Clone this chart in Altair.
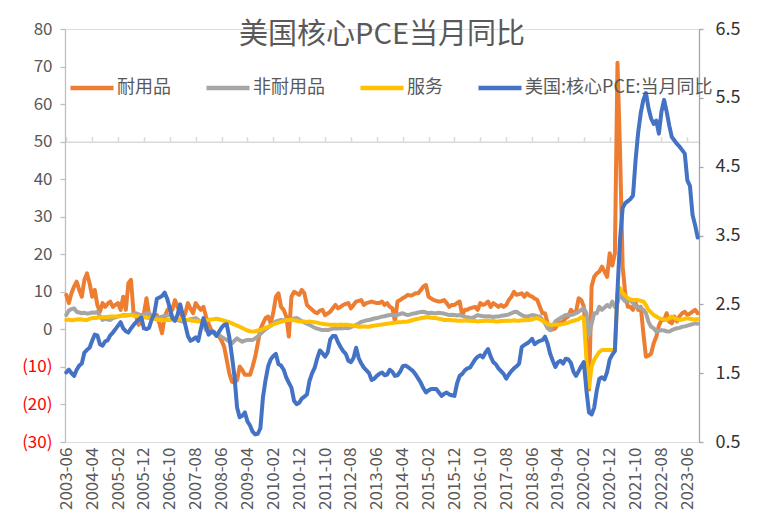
import altair as alt
import pandas as pd

FONT = "Noto Sans CJK SC"
W, H = 634, 413

N = 245
DATES = pd.date_range("2003-06", periods=N, freq="MS").strftime("%Y-%m").tolist()
TICK_DATES = DATES[::10]

SERIES = ["耐用品", "非耐用品", "服务", "美国:核心PCE:当月同比"]
COLORS = ["#ED7D31", "#A5A5A5", "#FFC000", "#4472C4"]
TITLE = "美国核心PCE当月同比"

LEFT_TICKS = list(range(-30, 81, 10))
RIGHT_TICKS = [0.5, 1.5, 2.5, 3.5, 4.5, 5.5, 6.5]

DURABLE = [
    9.2, 7.0, 9.6, 11.4, 12.7, 10.5, 8.7, 13.2, 14.9, 12.3,
    8.7, 10.5, 6.5, 4.7, 7.0, 6.0, 6.8, 7.4, 6.0, 6.5,
    7.0, 5.2, 8.7, 5.2, 12.3, 13.2, 4.3, 3.4, 1.2, 2.5,
    4.3, 8.3, 3.8, 3.0, 3.5, 3.8, 1.5, -1.0, 3.4, 5.0,
    6.0, 5.2, 7.8, 6.0, 4.5, 3.0, 4.3, 7.0, 5.5, 4.3,
    7.0, 6.0, 5.2, 6.0, 3.4, 1.5, -0.2, -0.8, -1.5, -1.9,
    -3.0, -4.6, -8.1, -11.7, -13.9, -14.2, -13.5, -9.9, -10.8, -12.1,
    -12.1, -12.1, -9.9, -7.3, -3.7, 0.0, 1.6, 3.0, 3.4, 1.6,
    4.5, 8.7, 9.6, 6.0, 5.2, 3.4, -1.9, 8.7, 10.0, 9.6,
    9.2, 10.5, 9.6, 6.5, 5.8, 5.2, 4.6, 4.3, 5.0, 5.2,
    3.8, 4.2, 4.7, 5.6, 6.5, 5.6, 6.0, 6.5, 6.8, 7.0,
    5.6, 6.5, 7.4, 7.6, 7.8, 6.5, 7.0, 7.2, 7.4, 7.2,
    7.0, 7.0, 7.4, 6.5, 7.0, 6.0, 5.6, 2.1, 7.4, 7.8,
    8.3, 8.7, 9.2, 9.0, 9.2, 9.6, 9.6, 10.5, 11.4, 11.8,
    8.7, 8.2, 7.8, 7.6, 7.4, 7.5, 7.8, 7.0, 6.0, 6.5,
    6.5, 7.0, 7.4, 3.8, 5.2, 5.2, 5.6, 5.8, 6.0, 5.2,
    7.0, 6.5, 6.8, 7.4, 6.0, 7.0, 6.5, 6.0, 6.5, 6.0,
    6.5, 7.8, 8.7, 10.0, 9.2, 9.4, 9.6, 8.7, 9.6, 9.0,
    8.7, 8.2, 7.8, 6.0, 4.3, 4.3, 1.6, -0.2, 0.0, 0.3,
    1.6, 1.8, 2.1, 3.0, 3.4, 5.2, 4.3, 4.7, 8.3, 7.8,
    6.0, -3.7, -16.0, 11.4, 14.0, 14.9, 15.4, 16.7, 15.4, 14.0,
    20.3, 17.0, 20.3, 71.0, 47.0, 16.7, 9.6, 6.0, 6.0, 5.2,
    7.0, 5.2, 6.0, -1.0, -7.3, -7.0, -6.4, -3.7, -2.0, 1.0,
    2.5, 2.5, 4.3, 2.0, 1.6, 3.4, 2.1, 3.5, 4.3, 4.7,
    3.8, 4.2, 4.7, 5.2, 4.3,
]

NONDURABLE = [
    3.8, 5.0, 5.4, 5.6, 4.7, 4.5, 4.3, 4.4, 4.2, 4.3,
    4.5, 4.4, 4.7, 3.5, 2.5, 2.8, 2.6, 2.5, 3.0, 3.2,
    3.4, 3.6, 3.8, 3.7, 3.8, 3.9, 4.1, 4.3, 4.0, 3.8,
    4.0, 4.2, 4.3, 3.6, 3.2, 3.0, 3.2, 3.4, 3.6, 3.7,
    3.8, 3.2, 2.8, 2.5, 2.3, 2.1, 2.3, 2.5, 2.7, 2.8,
    3.0, 2.5, 2.0, 1.6, -0.2, -0.5, -0.8, -1.0, -1.2, -1.5,
    -2.0, -2.4, -2.8, -3.3, -3.7, -3.0, -2.4, -2.9, -3.3, -3.0,
    -2.8, -2.8, -2.8, -2.4, -1.9, -1.2, -0.6, 0.0, 0.5, 1.0,
    1.6, 2.1, 2.3, 2.5, 2.4, 2.5, 2.5, 2.7, 2.9, 3.0,
    2.6, 2.2, 1.8, 1.5, 1.2, 0.8, 0.4, 0.2, 0.0, -0.2,
    -0.1, -0.2, 0.0, 0.2, 0.3, 0.2, 0.3, 0.3, 0.4, 0.3,
    0.6, 0.9, 1.2, 1.6, 2.0, 2.2, 2.4, 2.5, 2.7, 2.9,
    3.0, 3.2, 3.4, 3.5, 3.7, 3.8, 3.8, 3.7, 3.9, 4.1,
    4.3, 4.0, 3.8, 4.0, 4.2, 4.3, 4.5, 4.6, 4.7, 4.5,
    4.3, 4.4, 4.3, 4.3, 4.4, 4.3, 4.2, 4.0, 3.8, 3.9,
    3.8, 3.7, 3.8, 3.6, 3.4, 3.2, 3.1, 3.0, 3.4, 3.8,
    3.6, 3.5, 3.4, 3.5, 3.4, 3.3, 3.4, 3.4, 3.6, 3.7,
    3.8, 4.0, 4.3, 4.6, 4.7, 4.2, 3.8, 3.5, 3.4, 3.6,
    3.8, 3.7, 3.5, 3.4, 2.5, 1.6, 0.3, -0.2, 1.0, 2.1,
    2.6, 3.0, 3.4, 3.8, 3.9, 3.8, 4.0, 4.3, 4.7, 5.2,
    5.6, 4.3, -1.5, 1.5, 4.3, 4.3, 6.0, 5.2, 5.8, 6.5,
    6.0, 7.4, 6.0, 7.0, 9.6, 8.3, 7.4, 7.6, 7.8, 7.0,
    6.0, 6.0, 5.6, 5.2, 4.3, 2.0, 0.7, 0.3, -0.6, -0.4,
    -0.2, -0.3, -0.5, -0.6, -0.2, 0.1, 0.3, 0.4, 0.7, 0.8,
    1.0, 1.2, 1.4, 1.6, 1.5,
]

SERVICES = [
    2.5, 2.6, 2.4, 2.5, 2.6, 2.7, 2.6, 2.5, 2.5, 2.8,
    3.0, 3.0, 3.1, 3.2, 3.2, 3.3, 3.3, 3.4, 3.4, 3.4,
    3.5, 3.6, 3.6, 3.7, 3.8, 3.8, 3.7, 3.5, 3.4, 3.3,
    3.2, 3.1, 3.0, 2.9, 2.8, 2.6, 2.5, 2.5, 2.4, 2.5,
    2.5, 2.6, 2.7, 2.7, 2.7, 2.6, 2.5, 2.5, 2.4, 2.3,
    2.2, 2.1, 2.2, 2.3, 2.4, 2.5, 2.6, 2.7, 2.8, 2.7,
    2.5, 2.3, 2.1, 1.9, 1.6, 1.3, 1.0, 0.7, 0.4, 0.0,
    -0.3, -0.5, -0.6, -0.5, -0.3, -0.2, 0.1, 0.4, 0.7, 1.0,
    1.3, 1.6, 1.8, 2.0, 2.2, 2.4, 2.5, 2.5, 2.4, 2.3,
    2.1, 2.1, 2.1, 2.0, 2.1, 2.0, 1.9, 1.8, 1.6, 1.5,
    1.4, 1.3, 1.2, 1.2, 1.2, 1.2, 1.3, 1.2, 1.2, 1.2,
    1.1, 1.0, 0.9, 0.7, 0.7, 0.8, 0.7, 0.7, 0.9, 1.0,
    1.1, 1.2, 1.3, 1.4, 1.5, 1.6, 1.7, 1.8, 1.9, 1.9,
    2.0, 2.0, 2.1, 2.3, 2.5, 2.7, 2.8, 3.0, 3.1, 3.2,
    3.2, 3.1, 3.0, 3.0, 2.8, 2.7, 2.5, 2.5, 2.5, 2.4,
    2.4, 2.3, 2.3, 2.3, 2.4, 2.3, 2.3, 2.2, 2.2, 2.1,
    2.2, 2.2, 2.3, 2.3, 2.2, 2.2, 2.1, 2.1, 2.2, 2.2,
    2.3, 2.3, 2.3, 2.4, 2.3, 2.3, 2.4, 2.4, 2.5, 2.5,
    2.6, 2.9, 3.0, 2.7, 2.3, 1.9, 1.4, 1.2, 1.2, 1.2,
    1.2, 1.3, 1.4, 1.6, 1.8, 2.1, 2.3, 2.5, 2.7, 3.2,
    3.0, -8.0, -15.5, -9.9, -8.1, -7.0, -6.0, -5.5, -5.5, -5.5,
    -5.5, -5.5, -5.5, 9.6, 11.0, 9.6, 9.0, 8.3, 8.0, 7.8,
    7.8, 7.8, 7.6, 7.4, 6.5, 5.2, 4.5, 3.8, 3.4, 3.0,
    2.8, 2.6, 2.5, 3.0, 3.4, 3.0, 2.7, 2.5, 2.6, 2.8,
    3.0, 2.8, 2.7, 2.6, 2.7,
]

CORE_PCE = [
    1.51, 1.55, 1.50, 1.46, 1.55, 1.61, 1.64, 1.80, 1.84, 1.87,
    1.97, 2.06, 2.05, 1.92, 1.90, 1.96, 1.98, 2.05, 2.09, 2.14,
    2.19, 2.24, 2.15, 2.11, 2.09, 2.15, 2.20, 2.24, 2.28, 2.31,
    2.15, 2.14, 2.16, 2.28, 2.36, 2.58, 2.60, 2.62, 2.67, 2.58,
    2.45, 2.30, 2.26, 2.35, 2.50, 2.35, 2.20, 2.04, 1.97, 1.99,
    2.02, 1.97, 2.14, 2.30, 2.18, 2.06, 2.10, 2.10, 2.04, 2.10,
    2.16, 2.20, 2.21, 2.02, 1.75, 1.45, 1.00, 0.86, 0.88, 0.93,
    0.80, 0.74, 0.65, 0.61, 0.62, 0.70, 1.15, 1.40, 1.60, 1.70,
    1.75, 1.78, 1.63, 1.61, 1.55, 1.44, 1.36, 1.29, 1.10, 1.05,
    1.07, 1.13, 1.16, 1.19, 1.39, 1.50, 1.58, 1.72, 1.83, 1.79,
    1.74, 1.80, 1.99, 2.04, 2.04, 1.95, 1.88, 1.82, 1.78, 1.68,
    1.66, 1.72, 1.87, 1.72, 1.64, 1.58, 1.54, 1.50, 1.40, 1.42,
    1.46, 1.49, 1.51, 1.47, 1.48, 1.55, 1.52, 1.46, 1.47, 1.52,
    1.60, 1.61, 1.59, 1.56, 1.53, 1.48, 1.42, 1.36, 1.28, 1.22,
    1.25, 1.27, 1.27, 1.27, 1.22, 1.17, 1.20, 1.22, 1.19, 1.18,
    1.17, 1.35, 1.46, 1.49, 1.54, 1.57, 1.58, 1.64, 1.70, 1.74,
    1.76, 1.73, 1.80, 1.85, 1.74, 1.66, 1.63, 1.57, 1.53, 1.49,
    1.42, 1.48, 1.53, 1.57, 1.60, 1.64, 1.88, 1.91, 1.93, 1.96,
    2.00, 1.92, 1.95, 1.97, 1.98, 2.03, 1.93, 1.78, 1.68, 1.59,
    1.66, 1.68, 1.64, 1.71, 1.70, 1.65, 1.52, 1.46, 1.53, 1.60,
    1.66, 1.25, 0.93, 0.90, 1.00, 1.25, 1.42, 1.44, 1.41, 1.52,
    1.70, 1.77, 1.82, 2.70, 3.45, 3.90, 3.97, 4.00, 4.03, 4.08,
    4.60, 5.00, 5.28, 5.47, 5.57, 5.35, 5.20, 5.12, 5.17, 4.98,
    5.30, 5.47, 5.30, 5.10, 4.93, 4.88, 4.83, 4.79, 4.74, 4.69,
    4.30, 4.22, 3.80, 3.65, 3.47,
]


def frame(name, values):
    n = min(len(values), len(DATES))
    return pd.DataFrame({"date": DATES[:n], "series": name, "value": values[:n]})


x_scale = alt.Scale(type="point", padding=0.5, domain=DATES)
color = alt.Color(
    "series:N",
    scale=alt.Scale(domain=SERIES, range=COLORS),
    legend=alt.Legend(title=None),
)

x_bottom = alt.X(
    "date:O",
    scale=x_scale,
    axis=alt.Axis(
        values=TICK_DATES, labelAngle=-90, labelAlign="right", labelBaseline="middle",
        labelFontSize=17, labelColor="#595959", labelFont=FONT, labelPadding=5,
        domain=False, ticks=False, grid=False, title=None,
    ),
)

x_zero = alt.X(
    "date:O",
    scale=x_scale,
    axis=alt.Axis(
        values=TICK_DATES, labels=False, domain=True, domainColor="#D9D9D9",
        domainWidth=1.5, ticks=True, tickColor="#D9D9D9", tickSize=5, tickWidth=1.5,
        offset=-(H * 30 / 110), grid=False, title=None,
    ),
)

left_axis = alt.Axis(
    values=LEFT_TICKS,
    labelExpr="datum.value < 0 ? '(' + abs(datum.value) + ')' : datum.value + '\u00a0'",
    labelColor={"condition": {"test": "datum.value < 0", "value": "#FF0000"}, "value": "#595959"},
    labelFontSize=17, labelFont=FONT, labelPadding=8,
    domainColor="#BFBFBF", domainWidth=1.3, tickColor="#BFBFBF", tickSize=5, tickWidth=1.3,
    grid=False, title=None,
)

y_left = alt.Y("value:Q", scale=alt.Scale(domain=[-30, 80], nice=False, zero=False), axis=left_axis)

right_axis = alt.Axis(
    values=RIGHT_TICKS, format=".1f", orient="right",
    labelFontSize=18, labelFont=FONT, labelColor="#333333", labelPadding=12,
    domainColor="#A6A6A6", domainWidth=1.3, tickColor="#A6A6A6", tickSize=4, tickWidth=1.3,
    grid=False, title=None,
)
y_right = alt.Y("value:Q", scale=alt.Scale(domain=[0.5, 6.5], nice=False, zero=False), axis=right_axis)


def left_line(name, values):
    return alt.Chart(frame(name, values)).mark_line(
        strokeWidth=4, strokeJoin="round", strokeCap="round"
    ).encode(x=x_bottom, y=y_left, color=color)


left = alt.layer(
    left_line(SERIES[0], DURABLE),
    left_line(SERIES[1], NONDURABLE),
    left_line(SERIES[2], SERVICES),
)

right = alt.Chart(frame(SERIES[3], CORE_PCE)).mark_line(
    strokeWidth=4, strokeJoin="round", strokeCap="round"
).encode(x=x_zero, y=y_right, color=color)

chart = (
    alt.layer(left, right)
    .resolve_scale(y="independent")
    .resolve_axis(x="independent")
    .properties(
        width=W,
        height=H,
        autosize=alt.AutoSizeParams(type="none"),
        padding={"left": 57, "top": 21, "right": 50, "bottom": 78},
        title=alt.TitleParams(
            TITLE, fontSize=29, font=FONT, fontWeight="normal", color="#595959",
            anchor="middle", baseline="top", offset=0, dy=30,
        ),
    )
    .configure_view(stroke=None)
    .configure(background="white")
    .configure_legend(
        orient="none", legendX=3, legendY=35, direction="horizontal",
        symbolType="stroke", symbolSize=1849, symbolStrokeWidth=4.5,
        labelFont=FONT, labelFontSize=18, labelColor="#595959", labelOffset=1,
        labelLimit=400, columnPadding=26, padding=0,
    )
)

chart.save("out.html", embed_options={"renderer": "svg", "actions": False})
